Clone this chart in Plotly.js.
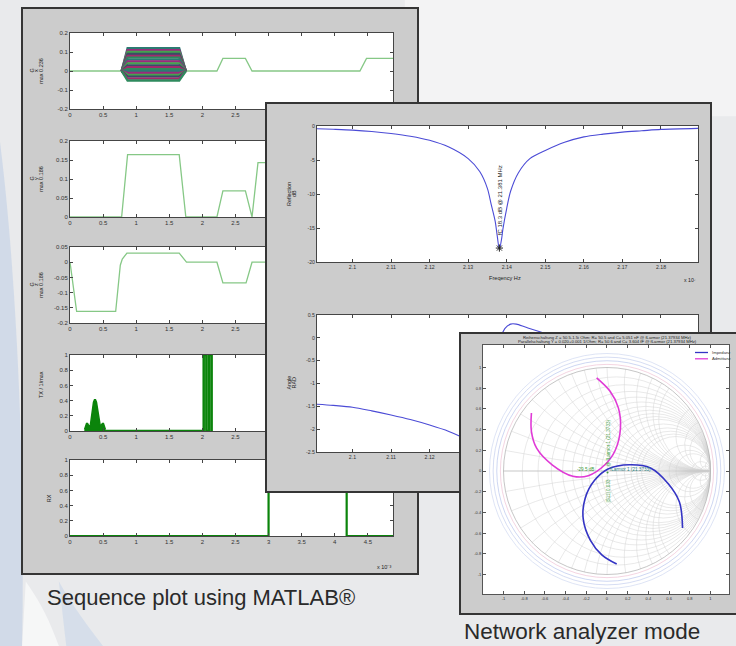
<!DOCTYPE html>
<html><head><meta charset="utf-8">
<script src="https://cdn.plot.ly/plotly-3.0.1.min.js"></script>
<style>
html,body{margin:0;padding:0;width:736px;height:646px;overflow:hidden;background:#e9eaec;}
.win{position:absolute;border:2px solid #353535;background:#cccccc;overflow:hidden;}
.pl{position:absolute;left:0;top:0;}
</style></head><body>
<div id="bg" style="position:absolute;left:0;top:0;width:736px;height:646px;z-index:0"></div>
<div class="win" style="left:21px;top:7px;width:394px;height:564px;z-index:1"><div id="w1" class="pl"></div></div>
<div class="win" style="left:265px;top:102px;width:443px;height:387px;z-index:2"><div id="w2" class="pl"></div></div>
<div class="win" style="left:459px;top:332px;width:290px;height:279px;z-index:3"><div id="w3" class="pl"></div><div id="w3o" class="pl"></div></div>
<script>
// ---------------- DATA ----------------
// Sequence plot (time in ms, x 10^-3 s)
const seqTicks = [0,0.5,1,1.5,2,2.5,3,3.5,4,4.5];
const seqTickLabels = ['0','0.5','1','1.5','2','2.5','3','3.5','4','4.5'];
const gxBandTime = [0.78, 0.87, 1.65, 1.75];
const gxBandLevels = [0.12,0.11,0.10,0.09,0.08,0.07,0.06,0.05,0.04,0.03,0.02,0.01,0,-0.01,-0.02,-0.03,-0.04,-0.05];
const gxTime = [0, 2.22, 2.31, 2.65, 2.75, 4.38, 4.48, 4.88];
const gxVal  = [0, 0, 0.066, 0.066, 0, 0, 0.066, 0.066];
const gyTime = [0, 0.78, 0.87, 1.65, 1.75, 2.22, 2.31, 2.65, 2.75, 2.84, 3.6, 3.7, 4.88];
const gyVal  = [0, 0, 0.164, 0.164, 0, 0, 0.069, 0.069, 0, 0.143, 0.143, 0, 0];
const gzTime = [0, 0.1, 0.69, 0.76, 0.79, 0.86, 1.65, 1.76, 2.22, 2.31, 2.66, 2.75, 4.88];
const gzVal  = [0, -0.162, -0.162, -0.01, 0.01, 0.03, 0.03, 0, 0, -0.068, -0.068, 0, 0];
const txPulseTime = [0.22,0.235,0.25,0.265,0.28,0.295,0.31,0.325,0.34,0.355,0.37,0.385,0.40,0.415,0.43,0.445,0.46,0.475,0.49,0.505,0.52,0.535];
const txPulseVal  = [0.02,0.07,0.10,0.10,0.08,0.05,0.09,0.20,0.31,0.38,0.41,0.41,0.38,0.30,0.19,0.08,0.05,0.08,0.10,0.10,0.07,0.02];
const txGateTime = [0.22, 2.02, 2.02, 2.06, 2.06, 2.10, 2.10, 2.14, 2.14];
const txGateVal  = [0, 0, 1, 1, 0, 0, 1, 1, 0];
const rxTime = [0, 3.0, 3.0, 4.18, 4.18, 4.88];
const rxVal  = [0, 0, 1, 1, 0, 0];
const gxTicks = [-0.2,-0.1,0,0.1,0.2], gxTickLabels = ['-0.2','-0.1','0','0.1','0.2'];
const gyTicks = [0,0.05,0.1,0.15,0.2], gyTickLabels = ['0','0.05','0.1','0.15','0.2'];
const gzTicks = [-0.2,-0.15,-0.1,-0.05,0,0.05], gzTickLabels = ['-0.2','-0.15','-0.1','-0.05','0','0.05'];
const unitTicks = [0,0.2,0.4,0.6,0.8,1], unitTickLabels = ['0','0.2','0.4','0.6','0.8','1'];

// Network analyzer (frequency x 10^7 Hz)
const reflFreq = [2.09,2.095,2.10,2.105,2.11,2.115,2.12,2.125,2.13,2.133,2.135,2.136,2.137,2.1375,2.1381,2.1387,2.139,2.14,2.141,2.143,2.146,2.15,2.155,2.16,2.165,2.17,2.175,2.18,2.19];
const reflDb   = [-0.38,-0.48,-0.6,-0.8,-1.1,-1.5,-2.1,-3.1,-4.8,-6.7,-9.2,-11.6,-14.0,-16.0,-18.1,-16.5,-15.2,-12.1,-9.6,-6.9,-4.8,-3.6,-2.4,-1.6,-1.2,-0.9,-0.7,-0.5,-0.35];
const phaseFreq = [2.09,2.095,2.10,2.105,2.11,2.115,2.12,2.125,2.128,2.131,2.134,2.136,2.137,2.1378,2.1385,2.1395,2.141,2.1425,2.145,2.15,2.16,2.17,2.18,2.19];
const phaseRad  = [-1.45,-1.48,-1.52,-1.6,-1.69,-1.79,-1.91,-2.05,-2.16,-2.3,-2.45,-2.4,-1.9,-1.0,0.0,0.2,0.3,0.3,0.23,0.1,-0.1,-0.25,-0.38,-0.5];
const freqTicks = [2.1,2.11,2.12,2.13,2.14,2.15,2.16,2.17,2.18];
const freqTickLabels = ['2.1','2.11','2.12','2.13','2.14','2.15','2.16','2.17','2.18'];
const dbTicks = [-20,-15,-10,-5,0], dbTickLabels = ['-20','-15','-10','-5','0'];
const radTicks = [-2.5,-2,-1.5,-1,-0.5,0,0.5], radTickLabels = ['-2.5','-2','-1.5','-1','-0.5','0','0.5'];

// Smith chart (reflection coefficient plane)
const seriesNames = ['Impedanz','Admittanz'];
const impRe = [0.094,-0.05,-0.16,-0.23,-0.21,-0.12,0.01,0.22,0.42,0.59,0.70,0.73];
const impIm = [-0.899,-0.81,-0.67,-0.46,-0.26,-0.09,0.02,0.06,0.03,-0.12,-0.30,-0.55];
const admRe = [-0.73,-0.73,-0.68,-0.53,-0.33,-0.18,-0.02,0.08,0.13,0.11,0.03,-0.10];
const admIm = [0.56,0.38,0.22,0.06,-0.05,-0.045,0.06,0.20,0.41,0.61,0.77,0.90];
const resonanceZr = [1.01], resonanceZi = [-0.03];
const smithTicks = [-1,-0.8,-0.6,-0.4,-0.2,0,0.2,0.4,0.6,0.8,1];
const smithTickLabels = ['-1','-0.8','-0.6','-0.4','-0.2','0','0.2','0.4','0.6','0.8','1'];
const smithR = [0.1,0.2,0.3,0.4,0.5,0.6,0.7,0.8,0.9,1,1.2,1.4,1.6,1.8,2,3,4,5,10,20,50];
const smithX = [-50,-20,-10,-5,-4,-3,-2,-1.8,-1.6,-1.4,-1.2,-1,-0.9,-0.8,-0.7,-0.6,-0.5,-0.4,-0.3,-0.2,-0.1,0,0.1,0.2,0.3,0.4,0.5,0.6,0.7,0.8,0.9,1,1.2,1.4,1.6,1.8,2,3,4,5,10,20,50];

// ---------------- HELPERS ----------------
const FONT = 'Liberation Sans, Arial, sans-serif';
const CFG = {staticPlot:true, displayModeBar:false};
function PX(W,x){return (x-W.l)/W.w;}
function PY(W,y){return 1-(y-W.t)/W.h;}
function ax(W, dom, range, tv, tt, fs, anchor, extra){
  return Object.assign({domain:dom, range:range, anchor:anchor, tickmode:'array', tickvals:tv, ticktext:tt,
    showline:true, linecolor:'#454545', linewidth:1, mirror:'ticks', ticks:'inside', ticklen:3, tickcolor:'#454545',
    showgrid:false, zeroline:false, fixedrange:true, tickfont:{family:FONT,size:fs,color:'#333'}}, extra||{});
}
function note(W,x,y,text,size,opt){
  return Object.assign({xref:'paper',yref:'paper',x:PX(W,x),y:PY(W,y),text:text,showarrow:false,
    font:{family:FONT,size:size,color:'#222'},xanchor:'center',yanchor:'middle'}, opt||{});
}

// ---------------- BACKGROUND ----------------
Plotly.newPlot('bg', [], {
  width:736, height:646, margin:{l:0,r:0,t:0,b:0}, paper_bgcolor:'#e9eaec', plot_bgcolor:'rgba(0,0,0,0)',
  xaxis:{visible:false,range:[0,1]}, yaxis:{visible:false,range:[0,1]},
  shapes:[
    {type:'rect',xref:'paper',yref:'paper',x0:0.55,x1:1,y0:0.82,y1:1,fillcolor:'rgba(255,255,255,0.45)',line:{width:0}},
    {type:'path',xref:'paper',yref:'paper',path:'M0,0.78 C0.02,0.6 0.035,0.3 0.03,0 L0,0 Z',fillcolor:'rgba(180,200,228,0.45)',line:{width:0}},
    {type:'path',xref:'paper',yref:'paper',path:'M0.035,0.1 C0.06,0.06 0.07,0.03 0.08,0 L0.03,0 Z',fillcolor:'rgba(255,255,255,0.6)',line:{width:0}},
    {type:'path',xref:'paper',yref:'paper',path:'M0.08,0.1 C0.1,0.06 0.12,0.03 0.14,0 L0.09,0 Z',fillcolor:'rgba(190,208,232,0.45)',line:{width:0}}
  ],
  annotations:[
    {xref:'paper',yref:'paper',x:45/736,y:1-597/646,xanchor:'left',yanchor:'middle',showarrow:false,
     text:'Sequence plot using MATLAB®',font:{family:FONT,size:22,color:'#2a2a2a'}},
    {xref:'paper',yref:'paper',x:462/736,y:1-631/646,xanchor:'left',yanchor:'middle',showarrow:false,
     text:'Network analyzer mode',font:{family:FONT,size:22.5,color:'#2a2a2a'}}
  ]
}, CFG);

// ---------------- WINDOW 1: sequence plot ----------------
const W1 = {l:23, t:9, w:394, h:564};
const rows = [[33,109],[141,217],[247,323],[355,431],[460,536]];
const xr = [0,4.88];
const L1 = {width:W1.w, height:W1.h, margin:{l:0,r:0,t:0,b:0}, paper_bgcolor:'#cccccc', plot_bgcolor:'#ffffff', showlegend:false};
const yDefs = [[[-0.2,0.2],gxTicks,gxTickLabels],[[0,0.2],gyTicks,gyTickLabels],[[-0.2,0.05],gzTicks,gzTickLabels],[[0,1],unitTicks,unitTickLabels],[[0,1],unitTicks,unitTickLabels]];
rows.forEach((r,i)=>{
  const s = i===0?'':String(i+1);
  L1['xaxis'+s] = ax(W1,[PX(W1,70),PX(W1,393)],xr,seqTicks,seqTickLabels,6,'y'+s);
  L1['yaxis'+s] = ax(W1,[PY(W1,r[1]),PY(W1,r[0])],yDefs[i][0],yDefs[i][1],yDefs[i][2],6,'x'+s);
});
const bandColors = ['#2c7a72','#9a2a7c','#45a24f','#3a4d66','#a02a6c','#2f8a5e'];
const t1 = [];
t1.push({x:gxTime,y:gxVal,xaxis:'x',yaxis:'y',mode:'lines',line:{color:'#86c886',width:1.3}});
gxBandLevels.forEach((a,k)=>{
  t1.push({x:gxBandTime, y:[0,a,a,0], xaxis:'x', yaxis:'y', mode:'lines',
           line:{color:bandColors[k%bandColors.length], width:2.3}});
});
t1.push({x:gyTime,y:gyVal,xaxis:'x2',yaxis:'y2',mode:'lines',line:{color:'#86c886',width:1.3}});
t1.push({x:gzTime,y:gzVal,xaxis:'x3',yaxis:'y3',mode:'lines',line:{color:'#86c886',width:1.3}});
t1.push({x:txPulseTime,y:txPulseVal,xaxis:'x4',yaxis:'y4',mode:'lines',fill:'tozeroy',fillcolor:'#0b840b',line:{color:'#0b840b',width:1.5}});
t1.push({x:txGateTime,y:txGateVal,xaxis:'x4',yaxis:'y4',mode:'lines',line:{color:'#0b840b',width:2.5}});
t1.push({x:rxTime,y:rxVal,xaxis:'x5',yaxis:'y5',mode:'lines',line:{color:'#0b840b',width:2.2}});
const ytl = {textangle:-90};
L1.annotations = [
  note(W1,31.5,71,'G',5.5,ytl), note(W1,36,71,'x',5.5,ytl), note(W1,40.8,71,'max 0.236',5.5,ytl),
  note(W1,31.5,179,'G',5.5,ytl), note(W1,36,179,'y',5.5,ytl), note(W1,40.8,179,'max 0.186',5.5,ytl),
  note(W1,31.5,285,'G',5.5,ytl), note(W1,36,285,'z',5.5,ytl), note(W1,40.8,285,'max 0.186',5.5,ytl),
  note(W1,41,385,'TX / 1/max',5.5,ytl),
  note(W1,49.3,498,'RX',5.5,ytl),
  note(W1,384,567,'x 10⁻³',5.5)
];
Plotly.newPlot('w1', t1, L1, CFG);

// ---------------- WINDOW 2: reflection / angle ----------------
const W2 = {l:267, t:104, w:443, h:387};
const fr = [2.0908,2.1896];
const L2 = {width:W2.w, height:W2.h, margin:{l:0,r:0,t:0,b:0}, paper_bgcolor:'#cccccc', plot_bgcolor:'#ffffff', showlegend:false,
  xaxis: ax(W2,[PX(W2,317),PX(W2,698)],fr,freqTicks,freqTickLabels,5.2,'y'),
  yaxis: ax(W2,[PY(W2,262),PY(W2,126)],[-20,0],dbTicks,dbTickLabels,5.2,'x'),
  xaxis2: ax(W2,[PX(W2,317),PX(W2,698)],fr,freqTicks,freqTickLabels,5.2,'y2'),
  yaxis2: ax(W2,[PY(W2,452),PY(W2,315)],[-2.5,0.5],radTicks,radTickLabels,5.2,'x2')
};
let iMin = 0; reflDb.forEach((v,i)=>{ if(v<reflDb[iMin]) iMin=i; });
const t2 = [
  {x:reflFreq,y:reflDb,xaxis:'x',yaxis:'y',mode:'lines',line:{color:'#4b4bd6',width:1.1,shape:'spline',smoothing:0.8}},
  {x:[reflFreq[iMin]],y:[reflDb[iMin]+0.15],xaxis:'x',yaxis:'y',mode:'markers',marker:{symbol:'asterisk-open',size:6,color:'#222',line:{color:'#222',width:1}}},
  {x:phaseFreq,y:phaseRad,xaxis:'x2',yaxis:'y2',mode:'lines',line:{color:'#4b4bd6',width:1.1,shape:'spline',smoothing:0.8}}
];
L2.annotations = [
  note(W2,289,194,'Reflection',5.4,ytl), note(W2,294,194,'dB',5.4,ytl),
  note(W2,288.5,383,'Angle',5.4,ytl), note(W2,293.5,383,'RAD',5.4,ytl),
  note(W2,505,278,'Freqency Hz',5.6),
  note(W2,690,280,'x 10⁷',5.2),
  {xref:'x',yref:'y',x:reflFreq[iMin]+0.0002,y:-10.9,text:'fC 18.3 dB @ 21.381 MHz',textangle:-90,showarrow:false,
   font:{family:FONT,size:6,color:'#222'}}
];
Plotly.newPlot('w2', t2, L2, CFG);

// ---------------- WINDOW 3: Smith chart ----------------
const W3 = {l:461, t:334, w:290, h:279};
const sxr = [-1.198,1.179], syr = [-1.188,1.217];
const smithDom = {x:[PX(W3,503.5),PX(W3,710.5)], y:[PY(W3,574.5),PY(W3,367.5)]};
function ringShape(r,c){return {type:'circle',xref:'x',yref:'y',x0:-r,x1:r,y0:-r,y1:r,line:{color:c,width:0.7},layer:'below'};}
const L3 = {width:W3.w, height:W3.h, margin:{l:0,r:0,t:0,b:0}, paper_bgcolor:'#cccccc', plot_bgcolor:'#ffffff', showlegend:false,
  xaxis: ax(W3,[PX(W3,483),PX(W3,729)],sxr,smithTicks,smithTickLabels,4,'y',{linecolor:'#555',tickcolor:'#555',ticklen:3}),
  yaxis: ax(W3,[PY(W3,594),PY(W3,345)],syr,smithTicks,smithTickLabels,4,'x',{linecolor:'#555',tickcolor:'#555',ticklen:3}),
  smith: {domain:smithDom, bgcolor:'rgba(0,0,0,0)',
    realaxis:{tickvals:smithR, showgrid:true, gridcolor:'#d2d2d2', gridwidth:0.5, showline:true, linecolor:'#bcbcbc', linewidth:0.6, showticklabels:false, ticks:''},
    imaginaryaxis:{tickvals:smithX, showgrid:true, gridcolor:'#d2d2d2', gridwidth:0.5, showline:true, linecolor:'#adadad', linewidth:0.7, showticklabels:false, ticks:''}},
  shapes:[ringShape(1.03,'#efc3d6'),ringShape(1.065,'#b9c6ec'),ringShape(1.1,'#c4cfee'),ringShape(1.135,'#d0d9f1')],
  annotations:[
    note(W3,607,337.5,'Reihenschaltung Z = 50.5-1.5i Ohm; R= 50.5 and C= 5.051 nF @ fLarmor (21.37934 MHz)',4.2),
    note(W3,607,341.8,'Parallelschaltung Y = 0.020+0.001 1/Ohm; R= 50.6 and C= 3.604 fF @ fLarmor (21.37934 MHz)',4.2)
  ]
};
const t3 = [
  {type:'scattersmith', real:resonanceZr, imag:resonanceZi, mode:'markers', marker:{size:2,color:'#3a9a3a'}, hoverinfo:'skip', showlegend:false}
];
Plotly.newPlot('w3', t3, L3, CFG);

const legendColors = ['#3434c4','#e03ad6'];
const L3o = {width:W3.w, height:W3.h, margin:{l:0,r:0,t:0,b:0}, paper_bgcolor:'rgba(0,0,0,0)', plot_bgcolor:'rgba(0,0,0,0)', showlegend:false,
  xaxis: {domain:[PX(W3,483),PX(W3,729)], range:sxr, visible:false, fixedrange:true},
  yaxis: {domain:[PY(W3,594),PY(W3,345)], range:syr, visible:false, fixedrange:true},
  shapes:[
    {type:'rect',xref:'paper',yref:'paper',x0:PX(W3,692),x1:PX(W3,729),y0:PY(W3,363),y1:PY(W3,348),fillcolor:'#ffffff',line:{width:0}},
    {type:'line',xref:'paper',yref:'paper',x0:PX(W3,695),x1:PX(W3,708),y0:PY(W3,352.5),y1:PY(W3,352.5),line:{color:legendColors[0],width:1.3}},
    {type:'line',xref:'paper',yref:'paper',x0:PX(W3,695),x1:PX(W3,708),y0:PY(W3,358.8),y1:PY(W3,358.8),line:{color:legendColors[1],width:1.3}}
  ],
  annotations:[
    note(W3,710,352.5,seriesNames[0],4.2,{xanchor:'left',font:{family:FONT,size:4.2,color:'#333'}}),
    note(W3,710,358.8,seriesNames[1],4.2,{xanchor:'left',font:{family:FONT,size:4.2,color:'#333'}}),
    note(W3,586,469,'-29.5 dB',4.6,{font:{family:FONT,size:4.6,color:'#3a9a3a'}}),
    note(W3,630,469,'fLarmor 1 (21.3733)',4.6,{font:{family:FONT,size:4.6,color:'#2e7f7f'}}),
    note(W3,607.5,443,'@ fLarmor 1 (21.3733)',4.6,{textangle:-90,font:{family:FONT,size:4.6,color:'#3a9a3a'}}),
    note(W3,607.5,491,'|S11| 0.033',4.6,{textangle:-90,font:{family:FONT,size:4.6,color:'#3a9a3a'}})
  ]
};
const t3o = [
  {x:impRe,y:impIm,mode:'lines',name:seriesNames[0],line:{color:legendColors[0],width:1.6,shape:'spline'}},
  {x:admRe,y:admIm,mode:'lines',name:seriesNames[1],line:{color:legendColors[1],width:1.6,shape:'spline'}}
];
Plotly.newPlot('w3o', t3o, L3o, CFG);
</script>
</body></html>
